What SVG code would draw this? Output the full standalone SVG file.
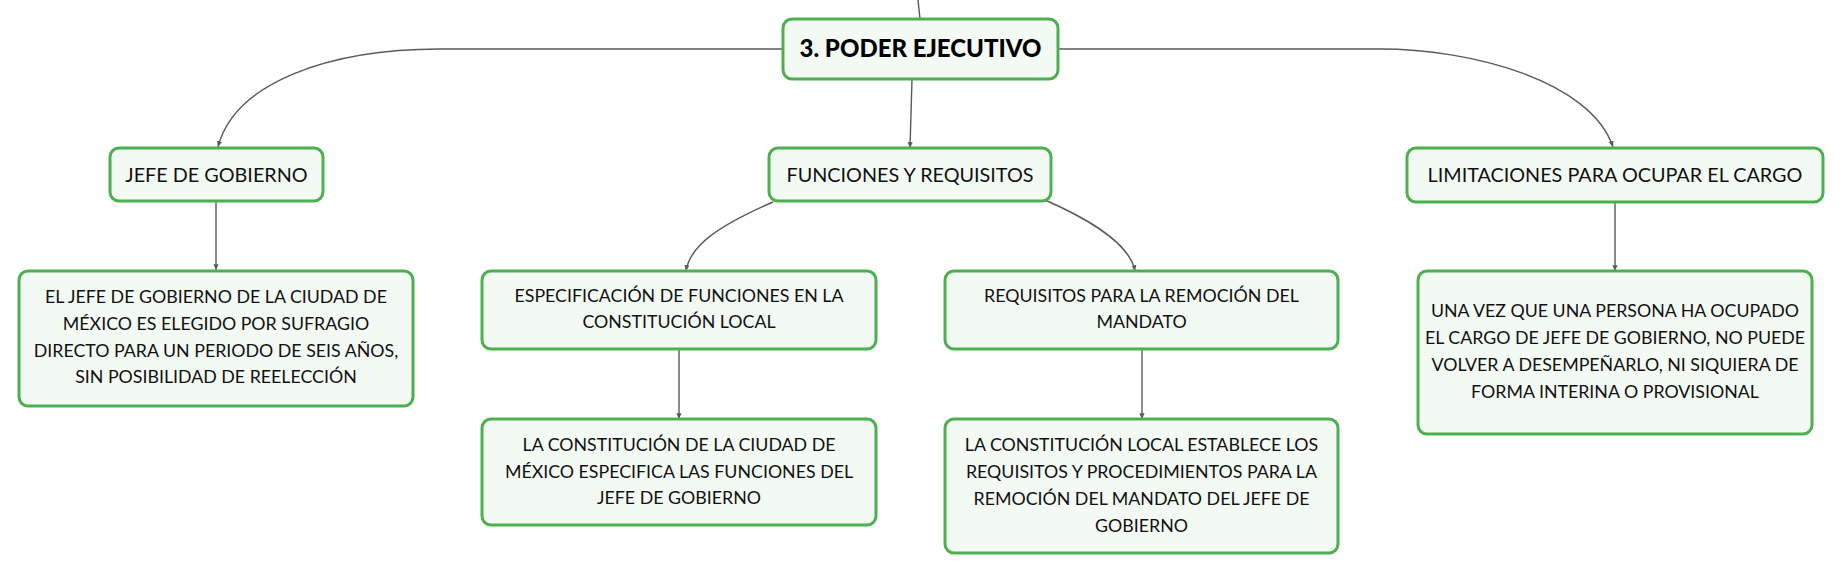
<svg xmlns="http://www.w3.org/2000/svg" width="1843" height="574" viewBox="0 0 1843 574">
<defs>
<style>
.box{fill:#f3faf4;stroke:#4caf50;stroke-width:3}
.t{font-family:Lato,"Noto Sans",sans-serif;font-size:19.8px;fill:#111;text-anchor:middle}
.s{font-family:Lato,"Noto Sans",sans-serif;font-size:17.8px;fill:#111;text-anchor:middle}
.b{font-family:Lato,"Noto Sans",sans-serif;font-size:24px;font-weight:900;fill:#000;text-anchor:middle}
.c{fill:none;stroke:#5a5a5a;stroke-width:1.4}
</style>
<marker id="ah" viewBox="0 0 6 6" refX="5" refY="3" markerWidth="5" markerHeight="5" orient="auto">
<path d="M0,0.8 L5,3 L0,5.2 Z" fill="#5a5a5a"/>
</marker>
</defs>
<rect width="1843" height="574" fill="#fff"/>
<g id="connectors">
<path class="c" d="M918,0 L920,19"/>
<path class="c" d="M912,79 L910,148" marker-end="url(#ah)"/>
<path class="c" d="M783,49 L440,49 C330,49 235,82 218,147" marker-end="url(#ah)"/>
<path class="c" d="M1058,49 L1380,49 C1470,49 1590,80 1613,147" marker-end="url(#ah)"/>
<path class="c" d="M216,201 L216,270" marker-end="url(#ah)"/>
<path class="c" d="M773,202 C720,225 690,245 686,271" marker-end="url(#ah)"/>
<path class="c" d="M1045,200 C1095,222 1130,245 1135,271" marker-end="url(#ah)"/>
<path class="c" d="M679,349 L679,419" marker-end="url(#ah)"/>
<path class="c" d="M1142,349 L1142,419" marker-end="url(#ah)"/>
<path class="c" d="M1615,202 L1615,271" marker-end="url(#ah)"/>
</g>
<g id="root">
<rect class="box" x="783" y="19" width="275" height="60" rx="9"/>
<text class="b" x="920.5" y="57">3. PODER EJECUTIVO</text>
</g>
<g id="jefe">
<rect class="box" x="110" y="148" width="213" height="53" rx="9"/>
<text class="t" x="216.5" y="182">JEFE DE GOBIERNO</text>
</g>
<g id="funciones">
<rect class="box" x="769" y="148" width="282" height="53" rx="9"/>
<text class="t" x="910" y="182">FUNCIONES Y REQUISITOS</text>
</g>
<g id="limitaciones">
<rect class="box" x="1407" y="148" width="416" height="54" rx="9"/>
<text class="t" x="1615" y="182">LIMITACIONES PARA OCUPAR EL CARGO</text>
</g>
<g id="jefe-detalle">
<rect class="box" x="19" y="271" width="394" height="135" rx="9"/>
<text class="s" x="216" y="303">EL JEFE DE GOBIERNO DE LA CIUDAD DE</text>
<text class="s" x="216" y="330">MÉXICO ES ELEGIDO POR SUFRAGIO</text>
<text class="s" x="216" y="357">DIRECTO PARA UN PERIODO DE SEIS AÑOS,</text>
<text class="s" x="216" y="383">SIN POSIBILIDAD DE REELECCIÓN</text>
</g>
<g id="especificacion">
<rect class="box" x="482" y="271" width="394" height="78" rx="9"/>
<text class="s" x="679" y="302">ESPECIFICACIÓN DE FUNCIONES EN LA</text>
<text class="s" x="679" y="328">CONSTITUCIÓN LOCAL</text>
</g>
<g id="requisitos">
<rect class="box" x="945" y="271" width="393" height="78" rx="9"/>
<text class="s" x="1141.5" y="302">REQUISITOS PARA LA REMOCIÓN DEL</text>
<text class="s" x="1141.5" y="328">MANDATO</text>
</g>
<g id="constitucion-cdmx">
<rect class="box" x="482" y="419" width="394" height="106" rx="9"/>
<text class="s" x="679" y="451">LA CONSTITUCIÓN DE LA CIUDAD DE</text>
<text class="s" x="679" y="478">MÉXICO ESPECIFICA LAS FUNCIONES DEL</text>
<text class="s" x="679" y="504">JEFE DE GOBIERNO</text>
</g>
<g id="constitucion-local">
<rect class="box" x="945" y="419" width="393" height="134" rx="9"/>
<text class="s" x="1141.5" y="451">LA CONSTITUCIÓN LOCAL ESTABLECE LOS</text>
<text class="s" x="1141.5" y="478">REQUISITOS Y PROCEDIMIENTOS PARA LA</text>
<text class="s" x="1141.5" y="505">REMOCIÓN DEL MANDATO DEL JEFE DE</text>
<text class="s" x="1141.5" y="532">GOBIERNO</text>
</g>
<g id="limitaciones-detalle">
<rect class="box" x="1418" y="271" width="394" height="163" rx="9"/>
<text class="s" x="1615" y="317">UNA VEZ QUE UNA PERSONA HA OCUPADO</text>
<text class="s" x="1615" y="344">EL CARGO DE JEFE DE GOBIERNO, NO PUEDE</text>
<text class="s" x="1615" y="371">VOLVER A DESEMPEÑARLO, NI SIQUIERA DE</text>
<text class="s" x="1615" y="398">FORMA INTERINA O PROVISIONAL</text>
</g>
</svg>
